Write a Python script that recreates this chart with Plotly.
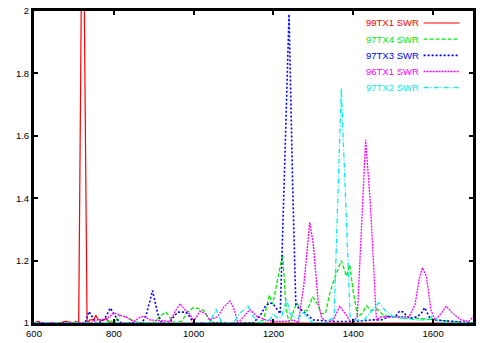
import plotly.graph_objects as go

# ---------------- data ----------------
series_names = ["99TX1 SWR", "97TX4 SWR", "97TX3 SWR", "96TX1 SWR", "97TX2 SWR"]
series_colors = ["#ff0000", "#00ee00", "#0000ff", "#ff00ff", "#00eeee"]
series_dash = ["solid", "4px,2px", "2px,2px", "2px,1px", "5px,2px,1px,2px"]
series_width = [1.2, 1.3, 1.6, 1.3, 1.3]

x_99tx1 = [600, 610, 620, 640, 660, 680, 690, 700, 705, 712, 722, 733, 740, 750, 755,
           760, 770, 775, 780, 790, 800, 1700]
y_99tx1 = [1.0, 1.005, 1.0, 1.0, 1.0, 1.005, 1.003, 1.0, 1.005, 1.0, 2.6, 1.0, 1.01, 1.01, 1.025,
           1.012, 1.008, 1.01, 1.015, 1.002, 1.0, 1.0]

x_97tx4 = [600, 780, 790, 800, 815, 830, 850, 870, 900, 915, 930, 945, 955, 970, 985, 1000,
           1015, 1025, 1040, 1055, 1160, 1175, 1190, 1198, 1223, 1232, 1240, 1250, 1258,
           1270, 1285, 1298, 1310, 1320, 1330, 1342, 1355, 1370, 1383, 1391, 1400, 1411,
           1422, 1433, 1445, 1460, 1475, 1500, 1530, 1560, 1600, 1650, 1700]
y_97tx4 = [1.0, 1.0, 1.01, 1.0, 1.025, 1.02, 1.005, 1.0, 1.0, 1.02, 1.036, 1.01, 1.0, 1.005, 1.035, 1.05,
           1.045, 1.04, 1.01, 1.0, 1.0, 1.01, 1.09, 1.06, 1.22, 1.04, 1.0, 1.04, 1.065,
           1.04, 1.04, 1.085, 1.06, 1.03, 1.03, 1.1, 1.15, 1.2, 1.15, 1.187, 1.1, 1.02,
           1.03, 1.055, 1.04, 1.045, 1.025, 1.02, 1.015, 1.015, 1.01, 1.005, 1.0]

x_97tx3 = [600, 728, 738, 755, 770, 780, 791, 800, 810, 820, 870, 880, 897, 910, 920, 940,
           950, 960, 980, 990, 1000, 1150, 1170, 1180, 1192, 1200, 1210, 1217, 1228, 1239,
           1248, 1256, 1262, 1280, 1300, 1350, 1400, 1450, 1470, 1490, 1505, 1516, 1525,
           1540, 1560, 1570, 1579, 1590, 1600, 1700]
y_97tx3 = [1.0, 1.0, 1.037, 1.0, 1.005, 1.02, 1.048, 1.03, 1.01, 1.0, 1.0, 1.02, 1.104, 1.03, 1.0, 1.0,
           1.02, 1.035, 1.035, 1.02, 1.0, 1.0, 1.03, 1.055, 1.065, 1.06, 1.04, 1.03, 1.5, 1.99,
           1.45, 1.06, 1.05, 1.03, 1.01, 1.005, 1.005, 1.01, 1.01, 1.02, 1.02, 1.038, 1.035,
           1.015, 1.02, 1.03, 1.049, 1.02, 1.01, 1.0]

x_96tx1 = [600, 740, 760, 780, 800, 815, 830, 850, 865, 875, 890, 910, 940, 955, 966, 980,
           990, 1000, 1016, 1030, 1040, 1060, 1075, 1091, 1100, 1111, 1125, 1141, 1160,
           1180, 1200, 1230, 1250, 1262, 1276, 1291, 1300, 1312, 1320, 1335, 1350, 1366,
           1380, 1395, 1410, 1420, 1431, 1443, 1450, 1458, 1470, 1500, 1540, 1555, 1565,
           1573, 1583, 1595, 1605, 1620, 1633, 1650, 1670, 1690, 1700]
y_96tx1 = [1.0, 1.0, 1.01, 1.01, 1.033, 1.025, 1.02, 1.005, 1.018, 1.022, 1.01, 1.008, 1.005, 1.04, 1.062, 1.04,
           1.03, 1.005, 1.038, 1.03, 1.01, 1.02, 1.05, 1.07, 1.05, 1.0, 1.02, 1.043, 1.02,
           1.01, 1.005, 1.005, 1.01, 1.0, 1.12, 1.323, 1.25, 1.07, 1.02, 1.0, 1.01, 1.054,
           1.03, 1.0, 1.02, 1.3, 1.587, 1.38, 1.2, 1.01, 1.02, 1.02, 1.02, 1.06, 1.14,
           1.177, 1.15, 1.04, 1.01, 1.03, 1.054, 1.03, 1.01, 1.005, 1.02]

x_97tx2 = [600, 1040, 1056, 1070, 1100, 1115, 1136, 1150, 1170, 1190, 1200, 1210, 1220,
           1233, 1242, 1250, 1262, 1275, 1290, 1300, 1330, 1340, 1352, 1370, 1392, 1400,
           1410, 1425, 1440, 1464, 1480, 1500, 1530, 1560, 1590, 1600, 1615, 1700]
y_97tx2 = [1.0, 1.0, 1.045, 1.0, 1.0, 1.03, 1.054, 1.02, 1.0, 1.01, 1.03, 1.015, 1.02,
           1.075, 1.03, 1.02, 1.015, 1.035, 1.01, 1.0, 1.0, 1.01, 1.02, 1.753, 1.02, 1.01,
           1.01, 1.005, 1.03, 1.065, 1.04, 1.02, 1.015, 1.01, 1.01, 1.027, 1.0, 1.0]

x_data = [x_99tx1, x_97tx4, x_97tx3, x_96tx1, x_97tx2]
y_data = [y_99tx1, y_97tx4, y_97tx3, y_96tx1, y_97tx2]

x_ticks = [600, 800, 1000, 1200, 1400, 1600]
y_ticks = [1, 1.2, 1.4, 1.6, 1.8, 2]

# ---------------- figure ----------------
FONT = "Liberation Sans, Arial, Helvetica, sans-serif"
FS = 9.5
fig = go.Figure()
for name, xs, ys, col, dash, w in zip(series_names, x_data, y_data, series_colors,
                                      series_dash, series_width):
    fig.add_trace(go.Scatter(x=xs, y=ys, mode="lines", name=name, showlegend=False,
                             hoverinfo="skip",
                             line=dict(color=col, dash=dash, width=w)))

# legend drawn gnuplot-style: text on the left, line sample on the right
PLOT_H = 312.5
row_top = 1 - 12.0 / PLOT_H
row_step = 16.2 / PLOT_H
for i, (name, col, dash, w) in enumerate(zip(series_names, series_colors, series_dash, series_width)):
    yy = row_top - i * row_step
    fig.add_annotation(x=0.8807, y=yy, xref="paper", yref="paper", text=name,
                       showarrow=False, xanchor="right", yanchor="middle",
                       font=dict(family=FONT, size=FS, color=col))
    fig.add_shape(type="line", xref="paper", yref="paper", x0=0.8875, x1=0.9693,
                  y0=yy, y1=yy, line=dict(color=col, dash=dash, width=w))

axis_common = dict(showgrid=False, zeroline=False, showline=True, linecolor="black",
                   linewidth=3, mirror="ticks", ticks="inside", ticklen=4, tickwidth=2,
                   tickcolor="black", automargin=False, ticklabeloverflow="allow",
                   tickfont=dict(family=FONT, size=FS, color="black"))
fig.update_xaxes(range=[600, 1700], tickvals=x_ticks, **axis_common)
fig.update_yaxes(range=[1, 2], tickvals=y_ticks, **axis_common)

fig.update_layout(width=491, height=343, margin=dict(l=33.5, r=17.5, t=11, b=19.5),
                  plot_bgcolor="white", paper_bgcolor="white", hovermode=False,
                  font=dict(family=FONT, size=FS, color="black"))

# remove the default 8px page margin so the figure fills the window exactly
fig.write_html("out.html", config={"displayModeBar": False},
               post_script="document.body.style.margin='0';document.body.style.overflow='hidden';")
